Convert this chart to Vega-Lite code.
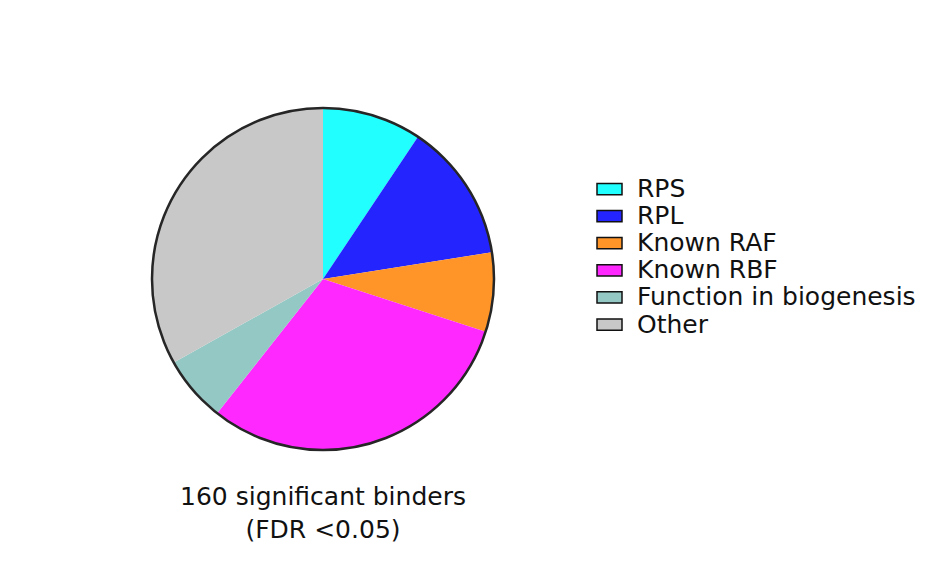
{
  "$schema": "https://vega.github.io/schema/vega-lite/v6.json",
  "autosize": {"type": "pad"},
  "padding": 0,
  "width": 646,
  "height": 558,
  "background": "white",
  "config": {"view": {"stroke": null}, "font": "DejaVu Sans"},
  "title": {
    "text": ["160 significant binders", "(FDR <0.05)"],
    "orient": "bottom",
    "anchor": "middle",
    "offset": -73,
    "fontSize": 25,
    "fontWeight": "normal",
    "lineHeight": 32.5,
    "color": "#111111",
    "font": "DejaVu Sans"
  },
  "data": {
    "values": [
      {"category": "RPS", "count": 15, "o": 1},
      {"category": "RPL", "count": 21, "o": 2},
      {"category": "Known RAF", "count": 12, "o": 3},
      {"category": "Known RBF", "count": 49, "o": 4},
      {"category": "Function in biogenesis", "count": 10, "o": 5},
      {"category": "Other", "count": 53, "o": 6}
    ]
  },
  "layer": [
    {
      "mark": {"type": "arc", "outerRadius": 171, "stroke": null},
      "encoding": {
        "theta": {"field": "count", "type": "quantitative", "stack": true},
        "order": {"field": "o", "type": "quantitative"},
        "color": {
          "field": "category",
          "type": "nominal",
          "scale": {
            "domain": ["RPS", "RPL", "Known RAF", "Known RBF", "Function in biogenesis", "Other"],
            "range": ["#22FFFF", "#2424FF", "#FF9428", "#FF28FF", "#94C8C4", "#C8C8C8"]
          },
          "legend": {
            "title": null,
            "orient": "none",
            "legendX": 596,
            "legendY": 175.5,
            "symbolType": "M-1,-0.45H1V0.45H-1Z",
            "symbolSize": 625,
            "symbolStrokeColor": "#111111",
            "symbolStrokeWidth": 1.5,
            "symbolOpacity": 1,
            "labelFontSize": 25,
            "labelFont": "DejaVu Sans",
            "labelColor": "#111111",
            "labelOffset": 14,
            "labelLimit": 400,
            "rowPadding": 0.1,
            "padding": 0
          }
        }
      }
    },
    {
      "transform": [{"aggregate": [{"op": "sum", "field": "count", "as": "total"}]}],
      "mark": {"type": "arc", "outerRadius": 171, "fillOpacity": 0, "fill": "white", "stroke": "#262626", "strokeWidth": 2.5},
      "encoding": {
        "theta": {"field": "total", "type": "quantitative", "stack": true}
      }
    }
  ]
}
